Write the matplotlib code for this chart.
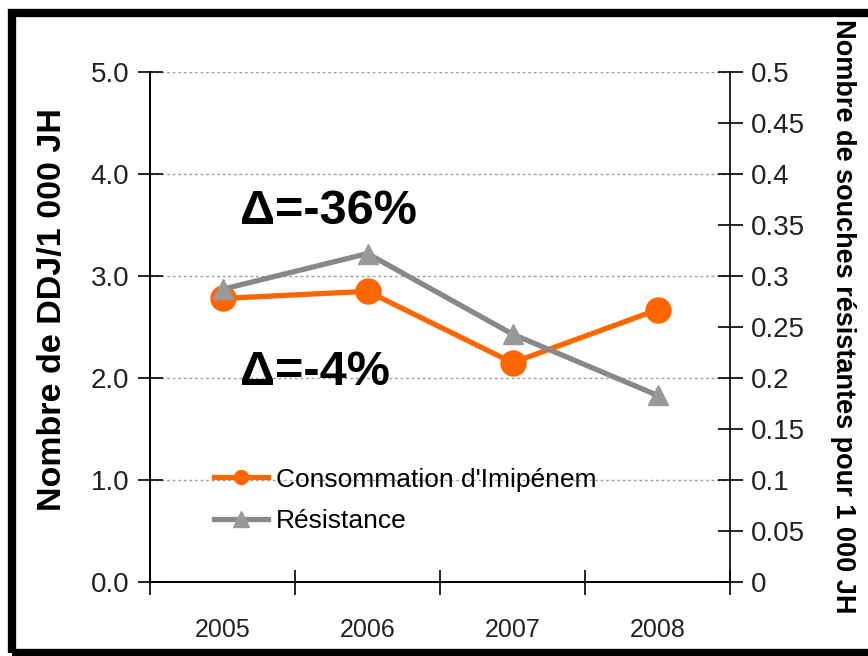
import matplotlib
matplotlib.use("Agg")
import matplotlib.pyplot as plt
from matplotlib.patches import Rectangle
from matplotlib.lines import Line2D

plt.rcParams['font.family'] = ['Liberation Sans', 'DejaVu Sans']

years = ["2005", "2006", "2007", "2008"]
consommation = [2.78, 2.85, 2.15, 2.67]      # DDJ / 1 000 JH (left axis)
resistance = [0.287, 0.322, 0.243, 0.183]    # souches résistantes / 1 000 JH (right axis)
left_ticks = [0.0, 1.0, 2.0, 3.0, 4.0, 5.0]
right_ticks = [0, 0.05, 0.1, 0.15, 0.2, 0.25, 0.3, 0.35, 0.4, 0.45, 0.5]
right_tick_labels = ["0", "0.05", "0.1", "0.15", "0.2", "0.25", "0.3", "0.35", "0.4", "0.45", "0.5"]

ORANGE = "#FF6600"
GRAY_LINE = "#888888"
GRAY_MARK = "#999999"

fig = plt.figure(figsize=(8.68, 6.56), dpi=100)
ax = fig.add_axes([150/868, 1-582/656, 580/868, 510/656])
ax2 = ax.twinx()

x = list(range(len(years)))

ax.set_xlim(-0.5, len(years) - 0.5)
ax.set_ylim(0, 5)
ax2.set_ylim(0, 0.5)

# gridlines on the primary axis
for v in left_ticks[1:]:
    ax.axhline(v, color="#A0A0A0", lw=1, ls=(0, (2, 2)), zorder=0)

ax.set_yticks(left_ticks)
ax.set_yticklabels([f"{v:.1f}" for v in left_ticks])
ax2.set_yticks(right_ticks)
ax2.set_yticklabels(right_tick_labels)

# category labels at centres, ticks at boundaries
ax.set_xticks(x)
ax.set_xticklabels(years)
ax.set_xticks([i - 0.5 for i in range(len(years) + 1)], minor=True)
ax.tick_params(axis="x", which="major", length=0, pad=26, labelsize=18, labelcolor="#222222")
ax.tick_params(axis="x", which="minor", direction="inout", length=18, width=1.2, color="black")
ax.tick_params(axis="y", direction="inout", length=18, width=1.2, labelsize=20, pad=6, labelcolor="#222222")
ax2.tick_params(axis="y", direction="inout", length=18, width=1.2, labelsize=20, pad=6, labelcolor="#222222")

for a in (ax, ax2):
    a.spines["top"].set_visible(False)
    for s in ("left", "right", "bottom"):
        a.spines[s].set_linewidth(1.2)
        a.spines[s].set_color("black")
ax.spines["right"].set_visible(False)

ax.plot(x, consommation, color=ORANGE, lw=3.8, marker="o", markersize=18,
        markerfacecolor=ORANGE, markeredgecolor=ORANGE, zorder=3, clip_on=False)
ax2.plot(x, resistance, color=GRAY_LINE, lw=3.8, marker="^", markersize=15,
         markerfacecolor=GRAY_MARK, markeredgecolor=GRAY_MARK, zorder=3, clip_on=False)

ax.set_ylabel("Nombre de DDJ/1 000 JH", fontsize=24.5, fontweight="bold")
ax2.set_ylabel("Nombre de souches résistantes pour 1 000 JH", fontsize=19.5,
               fontweight="bold", rotation=-90)
ax.yaxis.set_label_coords((53-150)/580, (582-310)/510)
ax.yaxis.label.set_va("center")
ax2.yaxis.set_label_coords((843-150)/580, (582-316)/510)
ax2.yaxis.label.set_va("center")

ax.text(0.12, 3.63, "Δ=-36%", fontsize=35, fontweight="bold", ha="left", va="center")
ax.text(0.12, 2.05, "Δ=-4%", fontsize=35, fontweight="bold", ha="left", va="center")

handles = [
    Line2D([], [], color=ORANGE, lw=3.8, marker="o", markersize=10,
           markerfacecolor=ORANGE, markeredgecolor=ORANGE),
    Line2D([], [], color=GRAY_LINE, lw=3.8, marker="^", markersize=11,
           markerfacecolor=GRAY_MARK, markeredgecolor=GRAY_MARK),
]
leg = ax.legend(handles, ["Consommation d'Imipénem", "Résistance"],
                loc="upper left", bbox_to_anchor=(0.092, 0.245), frameon=False,
                fontsize=19, handlelength=2.05, handletextpad=0.3, labelspacing=0.65,
                borderaxespad=0)

# black frame around the figure
fig.patches.append(Rectangle((12/868, 1-653/656), 900/868, (653-13)/656,
                             transform=fig.transFigure, fill=False,
                             edgecolor="black", linewidth=6, zorder=10))

fig.savefig("out.png", dpi=100)
